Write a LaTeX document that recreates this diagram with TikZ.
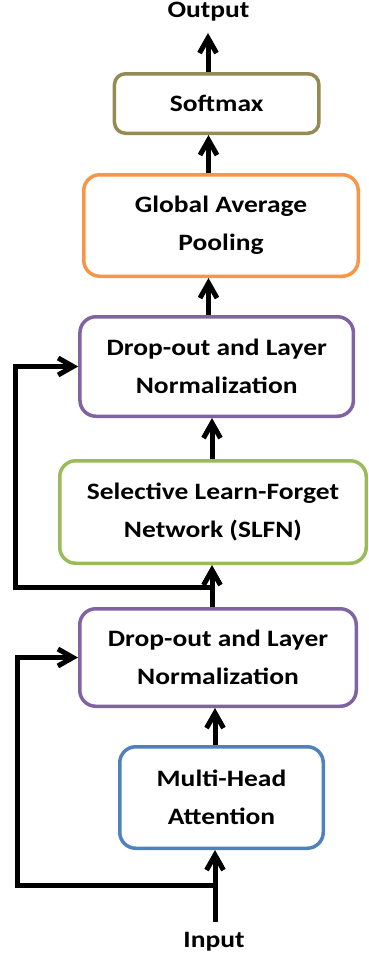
\documentclass[tikz,border=0pt]{standalone}
\usepackage{fontspec}
\newfontfamily\lab{Carlito}[FakeStretch=1.17]
\usetikzlibrary{arrows.meta}
\definecolor{colOlive}{HTML}{948A54}
\definecolor{colOrange}{HTML}{F79646}
\definecolor{colPurple}{HTML}{8064A2}
\definecolor{colGreen}{HTML}{9BBB59}
\definecolor{colBlue}{HTML}{4F81BD}
\begin{document}
\begin{tikzpicture}[x=1pt,y=-1pt,
  box/.style 2 args={draw, line width=3.5pt, fill=white, align=center,
    minimum width={#1pt-3.5pt}, minimum height={#2pt-3.5pt}, inner sep=0pt,
    font=\lab\bfseries\fontsize{23.5}{38}\selectfont},
  lbl/.style={inner sep=0pt, font=\lab\bfseries\fontsize{23.5}{28}\selectfont},
  arr/.style={line width=5pt, -{Straight Barb[length=15pt,width=17pt]}}]
\fill[white] (0,0) rectangle (369,959);
\useasboundingbox (0,0) rectangle (369,959);

\node[box={208}{63}, draw=colOlive, rounded corners=11pt] (soft) at (216.7,103.5) {Softmax};
\node[box={278}{105}, draw=colOrange, rounded corners=16pt] (gap) at (221,225.5) {Global Average\\Pooling};
\node[box={277}{103}, draw=colPurple, rounded corners=16pt] (drop1) at (216.7,366.5) {Drop-out and Layer\\Normalization};
\node[box={310}{106}, draw=colGreen, rounded corners=16pt] (slfn) at (213,512) {Selective Learn-Forget\\Network (SLFN)};
\node[box={280}{101}, draw=colPurple, rounded corners=16pt] (drop2) at (218,657.5) {Drop-out and Layer\\Normalization};
\node[box={207}{105}, draw=colBlue, rounded corners=16pt] (mha) at (221.5,797.5) {Multi-Head\\Attention};

\node[lbl, anchor=base] (out) at (208.5,17) {Output};
\node[lbl, anchor=base] (in) at (214,947) {Input};

\coordinate (outtip) at (208,33);
\coordinate (c1) at (208.5,0);
\coordinate (c2) at (212,0);
\coordinate (c3) at (215,0);
\coordinate (j1) at (212,587);
\coordinate (j2) at (215,885);
\coordinate (instart) at (215,922);
\coordinate (l1) at (15,0);
\coordinate (l2) at (17,0);

\draw[arr] (soft.north -| outtip) -- (outtip);
\draw[arr] (gap.north -| c1) -- (soft.south -| c1);
\draw[arr] (drop1.north -| c1) -- (gap.south -| c1);
\draw[arr] (slfn.north -| c2) -- (drop1.south -| c2);
\draw[arr] (drop2.north -| c2) -- (slfn.south -| c2);
\draw[arr] (j1) -- (j1 -| l1) -- (drop1.west -| l1) -- (drop1.west);
\draw[arr] (mha.north -| c3) -- (drop2.south -| c3);
\draw[arr] (instart) -- (mha.south -| c3);
\draw[arr] (j2) -- (j2 -| l2) -- (drop2.west -| l2) -- (drop2.west);
\end{tikzpicture}
\end{document}
